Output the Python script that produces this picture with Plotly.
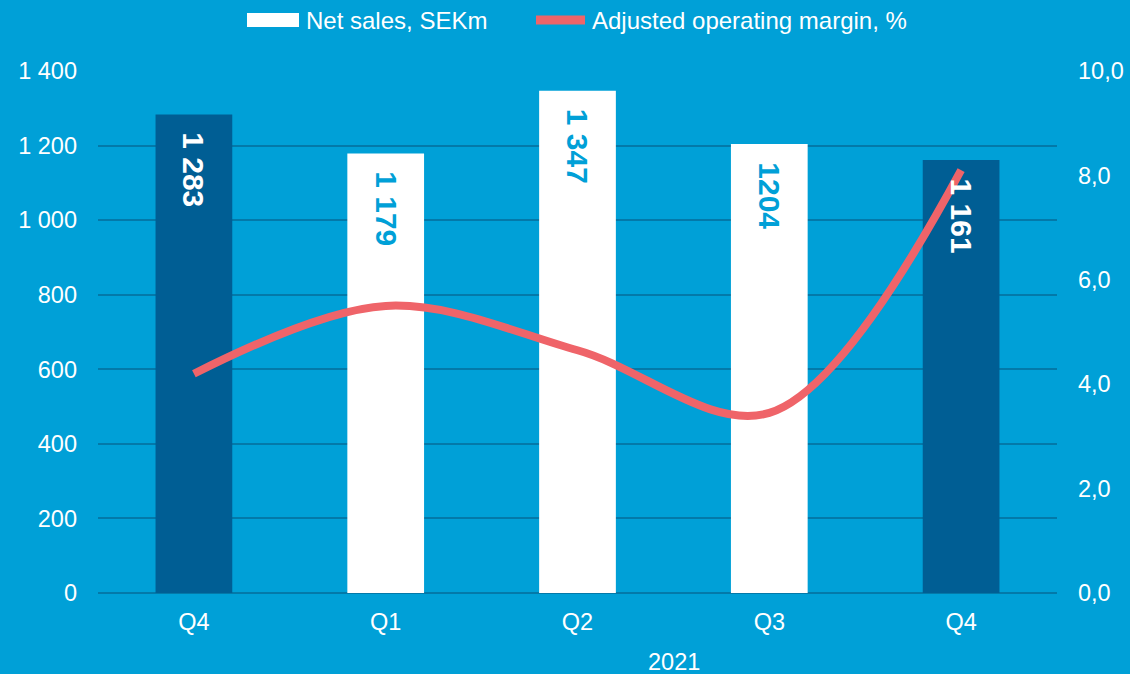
import plotly.graph_objects as go

# ---- data ----
categories = ["Q4 2020", "Q1 2021", "Q2 2021", "Q3 2021", "Q4 2021"]
tick_labels = ["Q4", "Q1", "Q2", "Q3", "Q4"]
net_sales = [1283, 1179, 1347, 1204, 1161]
net_sales_labels = ["1 283", "1 179", "1 347", "1204", "1 161"]
margin_pct = [4.2, 5.5, 4.65, 3.45, 8.1]
left_ticks = [0, 200, 400, 600, 800, 1000, 1200, 1400]
left_tick_text = ["0", "200", "400", "600", "800", "1 000", "1 200", "1 400"]
right_ticks = [0, 2, 4, 6, 8, 10]
right_tick_text = ["0,0", "2,0", "4,0", "6,0", "8,0", "10,0"]
year_label = "2021"

BG = "#00A0D7"
DARK = "#005E94"
WHITE = "#FFFFFF"
RED = "#EF6469"
GRID = "#0379A9"
FONT = "Liberation Sans, Arial, sans-serif"
FS = 23.5

bar_colors = [DARK, WHITE, WHITE, WHITE, DARK]
text_colors = [WHITE, BG, BG, BG, WHITE]

fig = go.Figure()
fig.add_trace(go.Bar(
    x=categories, y=net_sales, name="Net sales, SEKm",
    marker=dict(color=bar_colors, line=dict(width=0)),
    width=0.4, showlegend=False, yaxis="y",
))
fig.add_trace(go.Scatter(
    x=categories, y=margin_pct, name="Adjusted operating margin, %",
    mode="lines", line=dict(color=RED, width=8, shape="spline", smoothing=1.0),
    showlegend=False, yaxis="y2",
))

W, H = 1130, 674
L, R, T, B = 98, 73, 71, 81
pw, ph = W - L - R, H - T - B

def px(x):
    return (x - L) / pw

def py(y):
    return (H - B - y) / ph

shapes = [
    dict(type="rect", xref="paper", yref="paper",
         x0=px(247), x1=px(299), y0=py(27), y1=py(13),
         fillcolor=WHITE, line=dict(width=0)),
    dict(type="line", xref="paper", yref="paper",
         x0=px(536), x1=px(585), y0=py(20), y1=py(20),
         line=dict(color=RED, width=9)),
]
annotations = [
    dict(xref="paper", yref="paper", x=px(304), y=py(20), xanchor="left", yanchor="middle",
         text="Net sales, SEKm", showarrow=False, font=dict(family=FONT, size=24, color=WHITE)),
    dict(xref="paper", yref="paper", x=px(590), y=py(20), xanchor="left", yanchor="middle",
         text="Adjusted operating margin, %", showarrow=False, font=dict(family=FONT, size=24, color=WHITE)),
    dict(xref="paper", yref="paper", x=px(674), y=py(662), xanchor="center", yanchor="middle",
         text=year_label, showarrow=False, font=dict(family=FONT, size=FS, color=WHITE)),
]
for cat, val, lab, col in zip(categories, net_sales, net_sales_labels, text_colors):
    annotations.append(dict(
        x=cat, y=val, xref="x", yref="y", text=lab, showarrow=False,
        textangle=90, xanchor="center", yanchor="top", yshift=-16,
        font=dict(family=FONT, size=30, color=col, weight="bold"),
    ))

fig.update_layout(
    width=W, height=H,
    margin=dict(l=L, r=R, t=T, b=B, autoexpand=False),
    paper_bgcolor=BG, plot_bgcolor=BG,
    font=dict(family=FONT, size=FS, color=WHITE),
    shapes=shapes, annotations=annotations,
    xaxis=dict(tickvals=categories, ticktext=tick_labels, showgrid=False,
               showline=False, zeroline=False, ticks="", ticklabelstandoff=12,
               tickfont=dict(size=FS, color=WHITE)),
    yaxis=dict(range=[0, 1400], tickvals=left_ticks, ticktext=left_tick_text,
               showgrid=True, gridcolor=GRID, gridwidth=2, zeroline=True,
               zerolinecolor=GRID, zerolinewidth=2, showline=False, ticks="",
               ticklabelstandoff=20, tickfont=dict(size=FS, color=WHITE)),
    yaxis2=dict(range=[0, 10], tickvals=right_ticks, ticktext=right_tick_text,
                overlaying="y", side="right", showgrid=False, zeroline=False,
                showline=False, ticks="", ticklabelstandoff=20,
                tickfont=dict(size=FS, color=WHITE)),
)

fig.write_html("out.html",
               config={"displayModeBar": False},
               post_script="document.body.style.margin='0';document.body.style.background='%s';" % BG)
